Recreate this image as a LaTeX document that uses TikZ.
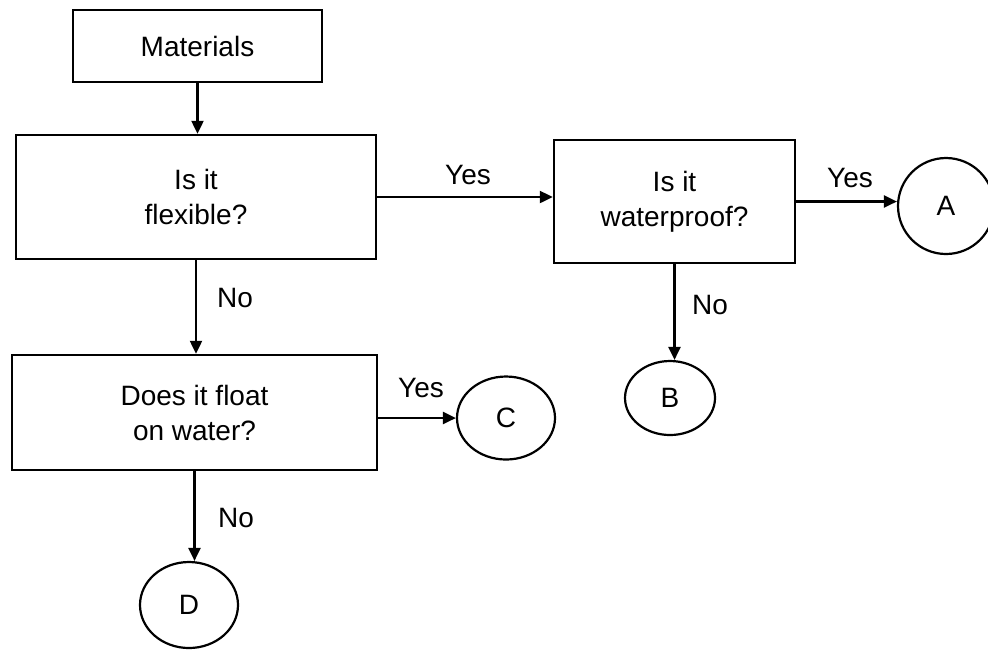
\documentclass[tikz,border=0pt]{standalone}
\usepackage{fontspec}
\setmainfont{Liberation Sans}
\usetikzlibrary{arrows.meta,shapes.geometric}
\tikzset{
  txt/.style={font=\fontsize{14}{17.5}\selectfont, align=center, inner sep=0pt},
  qbox/.style={txt, draw, line width=1.2pt, rectangle},
  endc/.style={txt, draw, line width=1.1pt, ellipse},
  conn/.style={line width=1.1pt, -{Triangle[length=6.5pt,width=6pt]}},
  lbl/.style={txt}
}
\begin{document}
\begin{tikzpicture}[x=0.5pt,y=-0.5pt]
\useasboundingbox (0,0) rectangle (988,650);
% boxes
\node[qbox, minimum width=124.5pt, minimum height=36pt] (mat) at (197.5,46) {Materials};
\node[qbox, minimum width=180pt, minimum height=62pt] (flex) at (196,197) {Is it\\flexible?};
\node[qbox, minimum width=120.5pt, minimum height=61.5pt] (wat) at (674.5,201.5) {Is it\\waterproof?};
\node[qbox, minimum width=182.5pt, minimum height=57.5pt] (flt) at (194.5,412.5) {Does it float\\on water?};
% end circles
\node[endc, minimum width=48pt, minimum height=48pt] (A) at (946,206) {A};
\node[endc, minimum width=45pt, minimum height=37pt] (B) at (670,398) {B};
\node[endc, minimum width=49pt, minimum height=41.5pt] (C) at (506,418) {C};
\node[endc, minimum width=49pt, minimum height=43pt] (D) at (189,605) {D};
% connectors
\draw[conn] (mat.south) -- (mat.south |- flex.north);
\draw[conn] (flex.east) -- (flex.east -| wat.west);
\draw[conn] (wat.east) -- (wat.east -| A.west);
\draw[conn] (wat.south) -- (wat.south |- B.north);
\draw[conn] (flex.south) -- (flex.south |- flt.north);
\draw[conn] (flt.east |- C.west) -- (C.west);
\draw[conn] (flt.south) -- (flt.south |- D.north);
% labels
\node[lbl] (y1) at (468,175) {Yes};
\node[lbl] (y2) at (850,178) {Yes};
\node[lbl] (n1) at (235,298) {No};
\node[lbl] (n2) at (710,305) {No};
\node[lbl] (y3) at (421,388) {Yes};
\node[lbl] (n3) at (236,518) {No};
\end{tikzpicture}
\end{document}
